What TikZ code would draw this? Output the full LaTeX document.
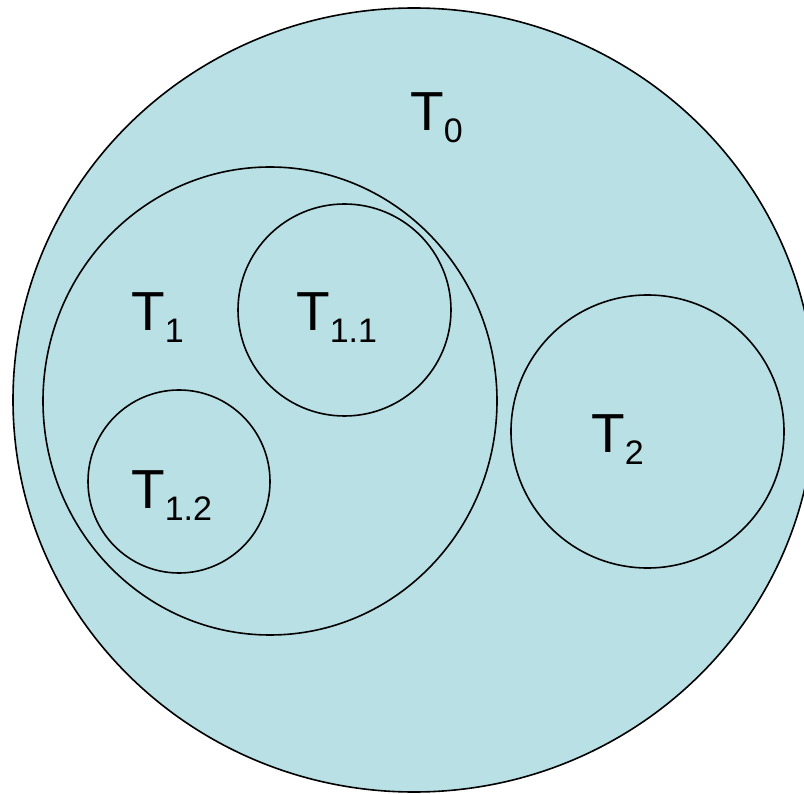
\documentclass[tikz,border=0pt]{standalone}
\usepackage{fontspec}
\setmainfont{Liberation Sans}
\usetikzlibrary{shapes.geometric}
\definecolor{setfill}{RGB}{185,224,228}
\newcommand{\Tlab}[1]{T\raisebox{-12pt}{\fontsize{34}{34}\selectfont #1}}
\tikzset{
  setshape/.style={ellipse, draw=black, line width=1.6pt, fill=setfill, inner sep=0pt},
  setlabel/.style={anchor=base west, inner sep=0pt, font=\fontsize{55}{55}\selectfont}
}
\begin{document}
\begin{tikzpicture}[x=1pt,y=-1pt]
\useasboundingbox (0,0) rectangle (804,794);
\node[setshape, minimum width=802pt, minimum height=784pt] (T0) at (414,400) {};
\node[setshape, minimum width=454pt, minimum height=468pt] (T1) at (270,401) {};
\node[setshape, minimum width=213pt, minimum height=212pt] (T11) at (344.5,310) {};
\node[setshape, minimum width=182pt, minimum height=183pt] (T12) at (179,481.5) {};
\node[setshape, minimum width=273pt, minimum height=273pt] (T2) at (647.5,431.5) {};
\node[setlabel] (L0) at (410,131) {\Tlab{0}};
\node[setlabel] (L1) at (131,331) {\Tlab{1}};
\node[setlabel] (L11) at (296,331) {\Tlab{1.1}};
\node[setlabel] (L12) at (131,508) {\Tlab{1.2}};
\node[setlabel] (L2) at (591,453) {\Tlab{2}};
\end{tikzpicture}
\end{document}
